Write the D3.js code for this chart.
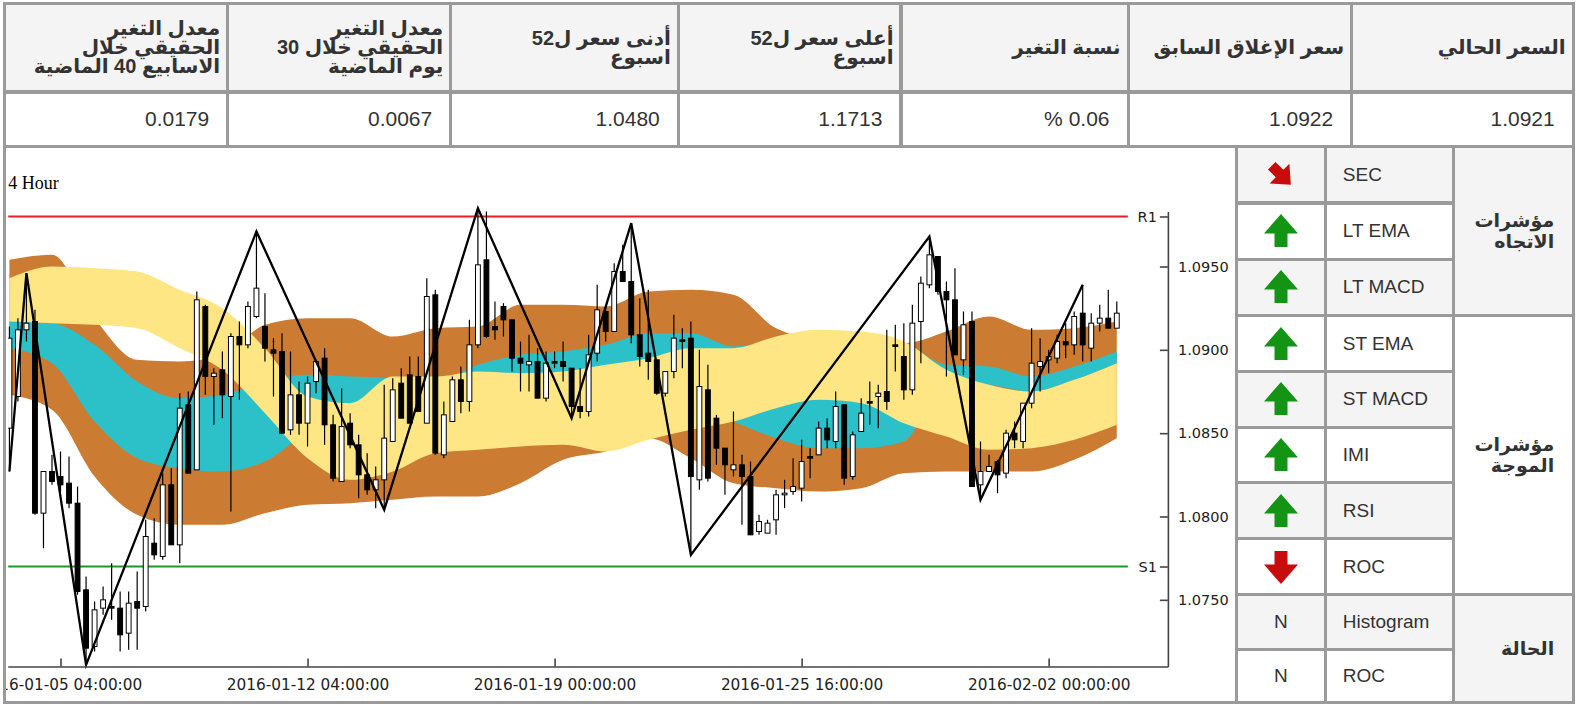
<!DOCTYPE html>
<html>
<head>
<meta charset="utf-8">
<script src="https://cdn.jsdelivr.net/npm/d3@7"></script>
<style>
  body { margin: 0; background: #fff; }
  #page { position: relative; width: 1578px; height: 708px; overflow: hidden;
          font-family: "Liberation Sans", "DejaVu Sans", sans-serif; color: #333; }
  .box { position: absolute; box-sizing: border-box; display: flex; align-items: center; }
  .head { font-weight: bold; font-size: 20px; line-height: 19px; justify-content: flex-end; padding-right: 6px; }
  .val { font-size: 21px; justify-content: flex-end; padding-right: 17px; }
  .lab { font-size: 19px; padding-left: 16px; }
  .sig { font-size: 19px; justify-content: center; }
  .grp { font-weight: bold; font-size: 19px; line-height: 21px; justify-content: flex-end; padding-right: 18px; }
  .rtl { direction: rtl; text-align: right; }
</style>
</head>
<body>
<div id="page"></div>
<script>
// top summary table, right to left
const headerLines = [
  ["السعر الحالي"],
  ["سعر الإغلاق السابق"],
  ["نسبة التغير"],
  ["أعلى سعر ل52", "اسبوع"],
  ["أدنى سعر ل52", "اسبوع"],
  ["معدل التغير", "الحقيقي خلال 30", "يوم الماضية"],
  ["معدل التغير", "الحقيقي خلال", "الاسابيع 40 الماضية"]
];
const headerValues = ["1.0921", "1.0922", "0.06 %", "1.1713", "1.0480", "0.0067", "0.0179"];

// indicator table
const signalNames = ["SEC", "LT EMA", "LT MACD", "ST EMA", "ST MACD", "IMI", "RSI", "ROC", "Histogram", "ROC"];
const signalState = ["downRight", "up", "up", "up", "up", "up", "up", "down", "N", "N"];
const groupNames = [["مؤشرات", "الاتجاه"], ["مؤشرات", "الموجة"], ["الحالة"]];
const groupSizes = [3, 5, 2];

// candles (4 hour bars)
const opens = [1.0853,1.0872,1.0912,1.0917,1.0802,1.0827,1.0824,1.0820,1.0808,1.0756,
  1.0722,1.0745,1.0746,1.0745,1.0730,1.0749,1.0746,1.0784,1.0776,1.0819,
  1.0783,1.0867,1.0828,1.0926,1.0884,1.0888,1.0872,1.0908,1.0903,1.0920,
  1.0914,1.0900,1.0899,1.0852,1.0873,1.0856,1.0881,1.0895,1.0855,1.0821,
  1.0856,1.0843,1.0825,1.0816,1.0822,1.0845,1.0880,1.0885,1.0884,1.0856,
  1.0933,1.0837,1.0857,1.0882,1.0869,1.0903,1.0954,1.0914,1.0926,1.0918,
  1.0895,1.0891,1.0893,1.0871,1.0893,1.0893,1.0889,1.0866,1.0863,1.0898,
  1.0923,1.0911,1.0947,1.0941,1.0909,1.0898,1.0894,1.0874,1.0887,1.0906,
  1.0907,1.0822,1.0876,1.0859,1.0841,1.0828,1.0831,1.0824,1.0791,1.0790,
  1.0798,1.0813,1.0815,1.0817,1.0836,1.0837,1.0853,1.0845,1.0867,1.0824,
  1.0851,1.0869,1.0872,1.0875,1.0903,1.0896,1.0876,1.0917,1.0939,1.0956,
  1.0935,1.0930,1.0894,1.0917,1.0819,1.0827,1.0833,1.0826,1.0850,1.0845,
  1.0868,1.0890,1.0894,1.0895,1.0905,1.0903,1.0922,1.0901,1.0916,1.0919,1.0913];
const highs = [1.0914,1.0919,1.0946,1.0924,1.0827,1.0837,1.0839,1.0836,1.0818,1.0764,
  1.0749,1.0758,1.0772,1.0755,1.0755,1.0767,1.0798,1.0799,1.0826,1.0829,
  1.0874,1.0875,1.0935,1.0927,1.0889,1.0899,1.0910,1.0917,1.0929,1.0971,
  1.0934,1.0907,1.0910,1.0899,1.0881,1.0884,1.0893,1.0901,1.0861,1.0877,
  1.0862,1.0849,1.0838,1.0830,1.0879,1.0883,1.0889,1.0896,1.0896,1.0943,
  1.0936,1.0869,1.0884,1.0890,1.0918,1.0985,1.0983,1.0929,1.0928,1.0918,
  1.0905,1.0909,1.0901,1.0899,1.0899,1.0905,1.0889,1.0889,1.0909,1.0939,
  1.0927,1.0952,1.0963,1.0976,1.0931,1.0936,1.0894,1.0887,1.0921,1.0913,
  1.0917,1.0900,1.0891,1.0861,1.0841,1.0863,1.0837,1.0833,1.0801,1.0798,
  1.0816,1.0822,1.0835,1.0846,1.0841,1.0857,1.0859,1.0875,1.0867,1.0851,
  1.0871,1.0881,1.0879,1.0912,1.0915,1.0916,1.0927,1.0944,1.0968,1.0956,
  1.0941,1.0949,1.0923,1.0923,1.0845,1.0837,1.0834,1.0852,1.0857,1.0868,
  1.0913,1.0907,1.0900,1.0909,1.0916,1.0923,1.0939,1.0922,1.0927,1.0936,1.0929];
const lows = [1.0827,1.0869,1.0905,1.0801,1.0781,1.0819,1.0815,1.0805,1.0753,1.0711,
  1.0719,1.0741,1.0738,1.0719,1.0720,1.0720,1.0743,1.0774,1.0774,1.0783,
  1.0772,1.0826,1.0828,1.0873,1.0855,1.0859,1.0803,1.0870,1.0901,1.0919,
  1.0893,1.0872,1.0850,1.0849,1.0849,1.0842,1.0874,1.0843,1.0821,1.0821,
  1.0841,1.0811,1.0813,1.0805,1.0804,1.0845,1.0859,1.0856,1.0863,1.0856,
  1.0837,1.0835,1.0857,1.0862,1.0863,1.0901,1.0907,1.0906,1.0908,1.0887,
  1.0875,1.0875,1.0871,1.0869,1.0889,1.0881,1.0859,1.0859,1.0860,1.0893,
  1.0905,1.0911,1.0941,1.0904,1.0890,1.0882,1.0873,1.0872,1.0883,1.0889,
  1.0777,1.0816,1.0821,1.0831,1.0813,1.0824,1.0795,1.0789,1.0789,1.0790,
  1.0789,1.0805,1.0813,1.0809,1.0823,1.0837,1.0841,1.0841,1.0819,1.0822,
  1.0851,1.0855,1.0853,1.0864,1.0887,1.0870,1.0873,1.0892,1.0937,1.0933,
  1.0884,1.0897,1.0885,1.0818,1.0810,1.0827,1.0814,1.0823,1.0841,1.0841,
  1.0865,1.0875,1.0886,1.0892,1.0895,1.0897,1.0893,1.0893,1.0911,1.0913,1.0913];
const closes = [1.0907,1.0912,1.0916,1.0802,1.0827,1.0821,1.0819,1.0808,1.0755,1.0721,
  1.0744,1.0750,1.0745,1.0729,1.0748,1.0745,1.0788,1.0777,1.0819,1.0783,
  1.0865,1.0826,1.0930,1.0884,1.0886,1.0873,1.0908,1.0903,1.0926,1.0937,
  1.0901,1.0898,1.0850,1.0873,1.0856,1.0880,1.0893,1.0855,1.0823,1.0854,
  1.0843,1.0825,1.0816,1.0822,1.0847,1.0876,1.0859,1.0856,1.0863,1.0932,
  1.0838,1.0861,1.0882,1.0869,1.0903,1.0951,1.0908,1.0912,1.0918,1.0895,
  1.0892,1.0893,1.0871,1.0892,1.0892,1.0890,1.0866,1.0863,1.0897,1.0924,
  1.0911,1.0947,1.0941,1.0909,1.0896,1.0893,1.0874,1.0887,1.0907,1.0905,
  1.0824,1.0878,1.0823,1.0841,1.0831,1.0831,1.0824,1.0789,1.0797,1.0796,
  1.0813,1.0814,1.0818,1.0833,1.0835,1.0853,1.0846,1.0866,1.0823,1.0849,
  1.0862,1.0868,1.0874,1.0869,1.0902,1.0876,1.0916,1.0940,1.0957,1.0935,
  1.0930,1.0897,1.0915,1.0818,1.0827,1.0830,1.0825,1.0850,1.0846,1.0868,
  1.0892,1.0893,1.0896,1.0905,1.0903,1.0920,1.0903,1.0916,1.0919,1.0913,1.0922];

// zigzag pivots (bar index, price)
const zigIdx = [0, 2, 9, 29, 44, 55, 66, 73, 80, 108, 114, 126];
const zigVal = [1.0827, 1.0946, 1.0711, 1.0971, 1.0804, 1.0985, 1.0859, 1.0976, 1.0777, 1.0968, 1.0810, 1.0939];

// channel bands, sampled every 5 bars
const bandIdx = [0,5,10,15,20,25,30,35,40,45,50,55,60,65,70,75,80,85,90,95,100,105,110,115,120,125,130];
const brownTop = [1.0954,1.0957,1.0919,1.0894,1.0893,1.0897,1.0915,1.0919,1.0919,1.0908,1.0913,1.0914,1.0927,1.0927,
  1.0926,1.0935,1.0936,1.0933,1.0913,1.0907,1.0907,1.0904,1.0911,1.0920,1.0912,1.0913,1.0917];
const brownBot = [1.0873,1.0864,1.0824,1.0801,1.0795,1.0795,1.0802,1.0807,1.0808,1.0810,1.0812,1.0812,1.0820,1.0834,
  1.0839,1.0847,1.0835,1.0820,1.0817,1.0815,1.0817,1.0826,1.0827,1.0827,1.0827,1.0834,1.0847];
const cyanTop = [1.0917,1.0916,1.0903,1.0881,1.0871,1.0873,1.0881,1.0885,1.0884,1.0883,1.0881,1.0891,1.0897,1.0899,
  1.0903,1.0910,1.0910,1.0902,1.0905,1.0905,1.0907,1.0904,1.0891,1.0890,1.0884,1.0890,1.0899];
const cyanBot = [1.0901,1.0892,1.0857,1.0835,1.0829,1.0827,1.0833,1.0849,1.0853,1.0869,1.0865,1.0881,1.0881,1.0881,
  1.0881,1.0881,1.0869,1.0857,1.0847,1.0841,1.0841,1.0845,1.0881,1.0879,1.0875,1.0882,1.0892];
const yellowTop = [1.0943,1.0950,1.0949,1.0947,1.0936,1.0925,1.0901,1.0872,1.0868,1.0884,1.0884,1.0887,1.0886,1.0887,
  1.0891,1.0895,1.0901,1.0901,1.0908,1.0912,1.0911,1.0905,1.0888,1.0879,1.0875,1.0882,1.0892];
const yellowBot = [1.0917,1.0916,1.0915,1.0913,1.0901,1.0888,1.0862,1.0835,1.0822,1.0827,1.0838,1.0840,1.0842,1.0843,
  1.0839,1.0846,1.0852,1.0857,1.0865,1.0870,1.0868,1.0856,1.0848,1.0840,1.0841,1.0846,1.0855];

const levelNames = ["R1", "S1"];
const levelValues = [1.0980, 1.0770];
const yTicks = [1.0750, 1.0800, 1.0850, 1.0900, 1.0950];
const xTickIdx = [6, 35, 64, 93, 122];
const xTickLabels = ["2016-01-05 04:00:00", "2016-01-12 04:00:00", "2016-01-19 00:00:00",
  "2016-01-25 16:00:00", "2016-02-02 00:00:00"];
const periodLabel = "4 Hour";

// ---------- layout ----------
const page = d3.select("#page");
const GRAY = "#f4f4f4";

function box(l, t, r, b, bg, cls) {
  return page.append("div").attr("class", "box " + (cls || ""))
    .style("left", l + "px").style("top", t + "px")
    .style("width", (r - l) + "px").style("height", (b - t) + "px")
    .style("background", bg);
}

// gray grid behind all cells
page.append("div").style("position", "absolute").style("background", "#9a9a9a")
  .style("left", "2.7px").style("top", "2.2px").style("width", "1572.6px").style("height", "701.8px");

const half = 1.5;
const topCols = [1573.2, 1351.7, 1128, 901, 678.3, 450.7, 227.7, 4.3];
const topRows = [3.7, 92, 146.7];

headerLines.forEach((lines, k) => {
  const l = topCols[k + 1] + half, r = topCols[k] - half;
  const h = box(l, topRows[0] + half, r, topRows[1] - half, GRAY, "head");
  const inner = h.append("div").attr("class", "rtl");
  lines.forEach(s => inner.append("div").text(s));
  const v = box(l, topRows[1] + half, r, topRows[2] - half, "#fff", "val");
  v.append("div").attr("class", "rtl").text(headerValues[k]);
});

// right indicator table
const sideCols = [1236.7, 1325.3, 1453.7, 1573.7];
const sideRows = [146.7, 203, 259.3, 315.5, 371.5, 427, 482.5, 538.5, 594.5, 649.5, 702.5];

function arrowCell(sel, kind) {
  const svg = sel.append("svg").attr("width", 36).attr("height", 36);
  const shape = "M0,-17L17,2.5L6.5,2.5L6.5,16L-6.5,16L-6.5,2.5L-17,2.5Z";
  let tr = "translate(18,18)", fill = "#149414";
  if (kind === "down") { tr += " rotate(180)"; fill = "#c80c0c"; }
  if (kind === "downRight") { tr += " rotate(135) scale(0.82)"; fill = "#c80c0c"; }
  svg.append("path").attr("d", shape).attr("transform", tr).attr("fill", fill);
}

signalNames.forEach((name, k) => {
  const bg = k % 2 === 0 ? GRAY : "#fff";
  const t = sideRows[k] + half, b = sideRows[k + 1] - half;
  const s = box(sideCols[0] + half, t, sideCols[1] - half, b, bg, "sig");
  if (signalState[k] === "N") s.text("N"); else arrowCell(s, signalState[k]);
  box(sideCols[1] + half, t, sideCols[2] - half, b, bg, "lab").text(name);
});

let startRow = 0;
groupNames.forEach((lines, g) => {
  const endRow = startRow + groupSizes[g];
  const c = box(sideCols[2] + half, sideRows[startRow] + half, sideCols[3] - half,
    sideRows[endRow] - half, g === 1 ? "#fff" : GRAY, "grp");
  const inner = c.append("div").attr("class", "rtl");
  lines.forEach(s => inner.append("div").text(s));
  startRow = endRow;
});

// ---------- chart ----------
const cellL = 5.8, cellT = 148.2, cellR = sideCols[0] - half, cellB = 701;
box(cellL, cellT, cellR, cellB, "#fff");

const svg = page.append("svg")
  .style("position", "absolute").style("left", cellL + "px").style("top", cellT + "px")
  .attr("width", cellR - cellL).attr("height", cellB - cellT);
const root = svg.append("g").attr("transform", `translate(${-cellL},${-cellT})`);

const x = d3.scaleLinear().domain([-0.2, 136]).range([7.5, 1167.7]);
const y = d3.scaleLinear().domain([1.0710, 1.0983]).range([666.7, 211.7]);

root.append("clipPath").attr("id", "plotclip")
  .append("rect").attr("x", 8).attr("y", 150).attr("width", x.range()[1] - 8).attr("height", 520);

const plot = root.append("g").attr("clip-path", "url(#plotclip)");

function ribbon(top, bot, color) {
  const area = d3.area()
    .curve(d3.curveMonotoneX)
    .x((d, i) => x(bandIdx[i]))
    .y0((d, i) => y(bot[i]))
    .y1((d, i) => y(top[i]));
  plot.append("path").attr("d", area(bandIdx)).attr("fill", color);
}
ribbon(brownTop, brownBot, "#cc7b33");
ribbon(cyanTop, cyanBot, "#2cc1c9");
ribbon(yellowTop, yellowBot, "#fee685");

// R1 / S1 lines
plot.selectAll("line.level")
  .data(levelValues)
  .join("line")
  .attr("class", "level")
  .attr("x1", x(-0.2)).attr("x2", x(opens.length + 0.3))
  .attr("y1", d => y(d)).attr("y2", d => y(d))
  .attr("stroke", (d, i) => i === 0 ? "#ee1c25" : "#1f9a1f")
  .attr("stroke-width", 2.2);

// candles
const I = d3.range(opens.length);
const bw = (x(1) - x(0)) * 0.57;
plot.append("g").selectAll("line")
  .data(I).join("line")
  .attr("x1", i => x(i)).attr("x2", i => x(i))
  .attr("y1", i => y(highs[i])).attr("y2", i => y(lows[i]))
  .attr("stroke", "#000").attr("stroke-width", 1.2);
plot.append("g").selectAll("rect")
  .data(I).join("rect")
  .attr("x", i => x(i) - bw / 2)
  .attr("width", bw)
  .attr("y", i => y(Math.max(opens[i], closes[i])))
  .attr("height", i => Math.max(1, Math.abs(y(opens[i]) - y(closes[i]))))
  .attr("fill", i => closes[i] >= opens[i] ? "#fff" : "#000")
  .attr("stroke", "#000").attr("stroke-width", 1);

// zigzag
const zig = d3.line().x((d, i) => x(zigIdx[i])).y((d, i) => y(zigVal[i]));
plot.append("path").attr("d", zig(zigIdx))
  .attr("fill", "none").attr("stroke", "#000").attr("stroke-width", 2.3);

// axes
const yAxis = d3.axisRight(y).tickValues(yTicks).tickFormat(d3.format(".4f"))
  .tickSizeInner(-8).tickSizeOuter(0).tickPadding(10);
const gy = root.append("g").attr("transform", `translate(${x.range()[1]},0)`).call(yAxis);

const levelAxis = d3.axisLeft(y).tickValues(levelValues).tickFormat((d, i) => levelNames[i])
  .tickSizeInner(8).tickSizeOuter(0).tickPadding(3);
const gl = root.append("g").attr("transform", `translate(${x.range()[1]},0)`).call(levelAxis);
gl.select(".domain").remove();

const xAxis = d3.axisBottom(x).tickValues(xTickIdx).tickFormat((d, i) => xTickLabels[i])
  .tickSizeInner(-8).tickSizeOuter(0).tickPadding(13);
const gx = root.append("g").attr("transform", `translate(0,${y.range()[0]})`).call(xAxis);

[gy, gl, gx].forEach(g => {
  g.attr("font-family", "DejaVu Sans").attr("font-size", 14.5);
  g.selectAll("path, line").attr("stroke", "#444").attr("stroke-width", 1.6);
  g.selectAll("text").attr("fill", "#222");
});
gx.attr("font-size", 15.3);

root.append("text").attr("x", 8).attr("y", 189)
  .attr("font-family", "Liberation Serif").attr("font-size", 18).attr("fill", "#000")
  .text(periodLabel);
</script>
</body>
</html>
